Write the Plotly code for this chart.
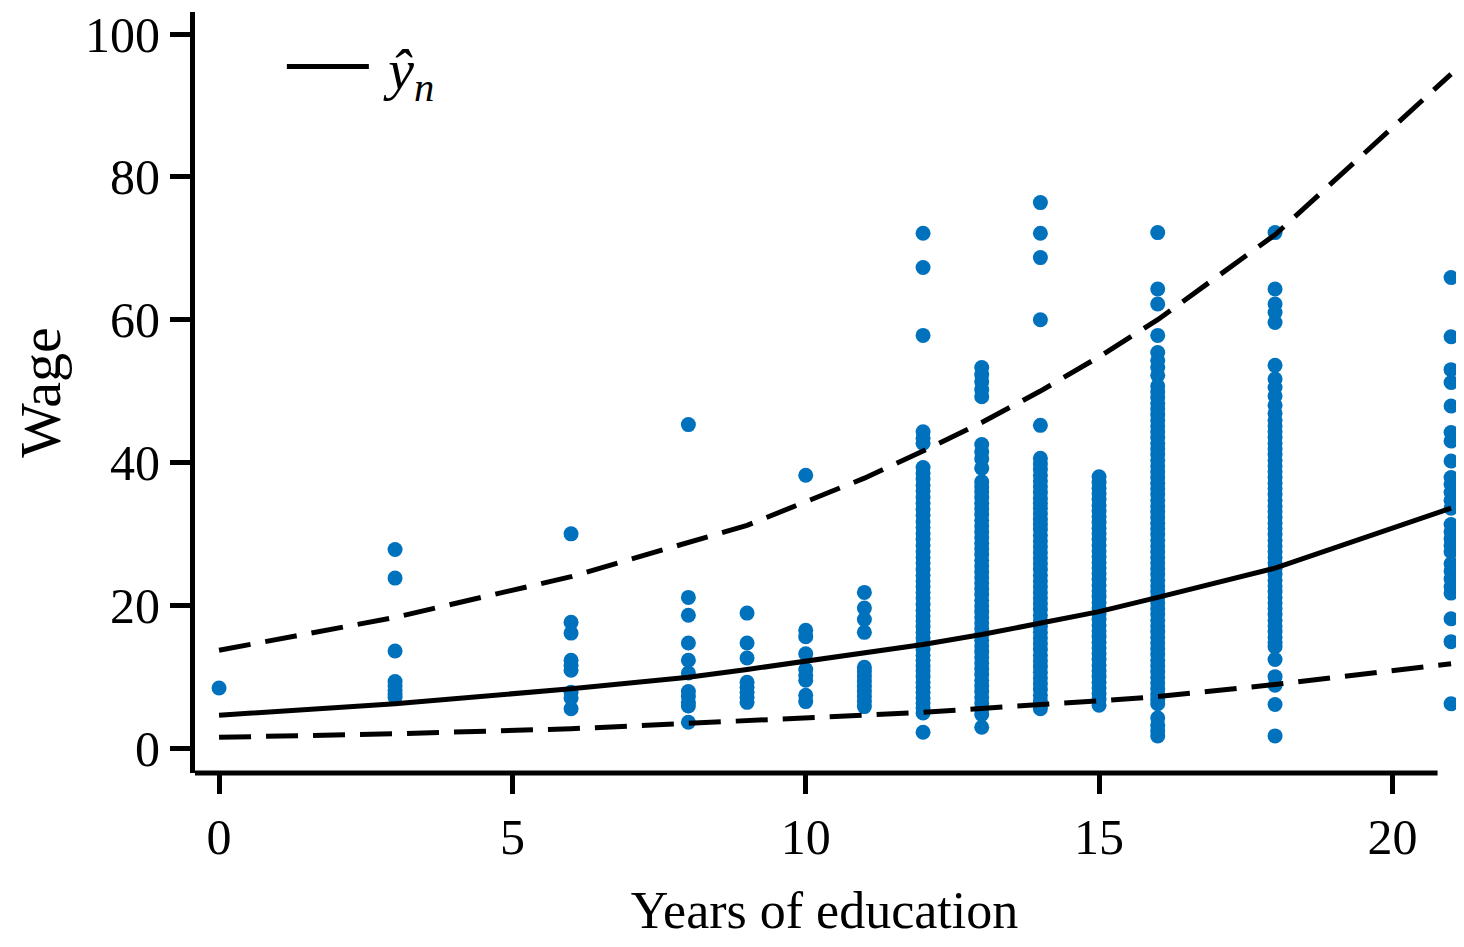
import plotly.graph_objects as go

# ---------------- data ----------------
educ_levels = [0, 3, 6, 8, 9, 10, 11, 12, 13, 14, 15, 16, 18, 21]

wage_0 = [8.4]
wage_3 = [27.8, 23.8, 13.6, 9.3, 8.7, 8.1, 7.5, 7.1]
wage_6 = [30.0, 17.6, 16.1, 12.3, 11.6, 10.9, 7.8, 7.0, 5.5]
wage_8 = [45.3, 21.1, 18.6, 14.7, 12.3, 10.5, 7.9, 7.2, 6.4, 5.9, 3.6]
wage_9 = [18.9, 14.7, 12.6, 9.2, 8.5, 7.8, 7.1, 6.4]
wage_10 = [38.2, 16.5, 15.6, 13.2, 11.0, 10.2, 9.5, 7.4, 6.5]
wage_11 = [21.8, 19.6, 18.0, 16.2, 11.3, 10.7, 10.0, 9.3, 8.6, 7.9, 7.2, 6.5, 5.8]
wage_12 = [72.1, 67.3, 57.8, 44.3, 43.4, 42.7,
           39.3, 38.5, 37.7, 36.8, 36.0, 35.1, 34.3, 33.4, 32.6, 31.7, 30.9, 30.0,
           29.2, 28.4, 27.5, 26.7, 25.9, 25.0, 24.2, 23.4, 22.6, 21.8, 21.0, 20.1,
           19.3, 18.5, 17.8, 17.0, 16.2, 15.4, 14.6, 13.8, 13.0, 12.3, 11.5, 10.8,
           10.0, 9.2, 8.5, 7.8, 7.0, 6.3, 5.6, 4.9, 2.2]
wage_13 = [53.3, 52.3, 51.3, 50.2, 49.2, 42.5, 41.5, 40.5, 39.2,
           37.3, 36.6, 35.9, 35.1, 34.3, 33.5, 32.7, 31.9, 31.1, 30.3, 29.5, 28.7,
           27.9, 27.1, 26.3, 25.5, 24.7, 23.9, 23.1, 22.3, 21.5, 20.7, 19.9, 19.1,
           18.3, 17.5, 16.7, 15.9, 15.1, 14.3, 13.5, 12.7, 11.9, 11.1, 10.3, 9.5,
           8.7, 7.9, 7.1, 6.3, 5.5, 4.7, 2.9]
wage_14 = [76.4, 72.1, 68.7, 60.0, 45.2,
           40.6, 39.8, 39.0, 38.2, 37.4, 36.6, 35.8, 35.0, 34.3,
           33.6, 32.8, 32.0, 31.3, 30.6,
           29.8, 29.0, 28.2, 27.4, 26.6, 25.8, 25.0, 24.2, 23.4, 22.6, 21.8, 21.0,
           20.2, 19.4, 18.6, 17.8, 17.0, 16.2, 15.4, 14.6, 13.8, 13.0, 12.2, 11.4,
           10.6, 9.8, 9.0, 8.2, 7.4, 6.6, 6.0, 5.5]
wage_15 = [38.0, 37.2, 36.4, 35.6, 34.8, 34.0, 33.2, 32.4, 31.6, 30.8, 30.0,
           29.2, 28.4, 27.6, 26.8, 26.0, 25.2, 24.4, 23.6, 22.8, 22.0, 21.2, 20.4,
           19.6, 18.8, 18.0, 17.2, 16.4, 15.6, 14.8, 14.0, 13.2, 12.4, 11.6, 10.8,
           10.0, 9.2, 8.4, 7.6, 6.8, 6.0]
wage_16 = [72.2, 64.3, 62.2, 57.8, 55.4, 54.3, 53.3, 52.2,
           50.7, 49.9, 49.1, 48.3, 47.5, 46.7, 45.9, 45.1, 44.3, 43.5, 42.7, 41.9,
           41.1, 40.3, 39.5, 38.7, 37.9, 37.1, 36.3, 35.5, 34.7, 33.9, 33.1, 32.3,
           31.5, 30.7, 29.9, 29.1, 28.3, 27.5, 26.7, 25.9, 25.1, 24.3, 23.5, 22.7,
           21.9, 21.1, 20.3, 19.5, 18.7, 17.9, 17.1, 16.3, 15.5, 14.7, 13.9, 13.1,
           12.3, 11.5, 10.7, 9.9, 9.1, 8.3, 7.5, 6.8, 6.2, 4.2, 3.2, 2.4, 1.7]
wage_18 = [72.2, 64.3, 62.2, 61.0, 59.6, 53.6, 51.7, 50.5, 49.3, 48.0, 46.9,
           45.9, 45.1, 44.3, 43.5, 42.7, 41.9, 41.1, 40.3, 39.5, 38.7, 37.9, 37.1,
           36.3, 35.5, 34.7, 33.9, 33.1, 32.3, 31.5, 30.7, 29.9, 29.1, 28.3, 27.5,
           26.7, 25.9, 25.1, 24.3, 23.5, 22.7, 21.9, 21.1, 20.3, 19.5, 18.7, 17.9,
           17.1, 16.3, 15.5, 14.8, 14.2, 12.4, 10.0, 8.8, 6.1, 1.7]
wage_21 = [65.9, 57.6, 53.0, 51.2, 47.9, 44.2, 43.0, 40.2, 37.9, 36.9, 35.8,
           34.7, 33.6, 31.3, 30.3, 29.3, 28.4, 27.5, 25.8, 24.8, 23.7, 22.6, 21.7,
           18.1, 14.9, 6.2]

wages_by_level = [wage_0, wage_3, wage_6, wage_8, wage_9, wage_10, wage_11,
                  wage_12, wage_13, wage_14, wage_15, wage_16, wage_18, wage_21]

# fitted curve and interval bounds at each education level
fit_mid = [4.6, 6.2, 8.3, 9.9, 11.0, 12.2, 13.3, 14.5, 15.9, 17.5, 19.1, 21.1, 25.2, 33.6]
fit_upper = [13.7, 18.3, 24.0, 28.8, 31.2, 34.5, 37.8, 41.6, 45.6, 50.0, 54.8, 60.0, 71.9, 94.4]
fit_lower = [1.5, 2.0, 2.7, 3.4, 3.8, 4.2, 4.6, 5.0, 5.6, 6.1, 6.6, 7.2, 8.9, 11.8]

x_ticks = [0, 5, 10, 15, 20]
y_ticks = [0, 20, 40, 60, 80, 100]
x_title = "Years of education"
y_title = "Wage"
legend_label = "&nbsp;<i>ŷ</i><sub><i>n</i></sub>"

# ---------------- styling ----------------
BLUE = "rgb(0,114,189)"
FONT = "Liberation Serif"
X_RANGE = [-0.41, 21.05]
X_AXIS_END = 20.77
Y_RANGE = [-3.5, 103.1]

pts_x, pts_y = [], []
for lvl, ws in zip(educ_levels, wages_by_level):
    pts_x.extend([lvl] * len(ws))
    pts_y.extend(ws)

fig = go.Figure()
fig.add_trace(go.Scatter(
    x=pts_x, y=pts_y, mode="markers",
    marker=dict(color=BLUE, size=15, line=dict(width=0)),
    showlegend=False, cliponaxis=False, hoverinfo="skip"))
fig.add_trace(go.Scatter(
    x=educ_levels, y=fit_upper, mode="lines",
    line=dict(color="black", width=5, dash="32px,15px"), showlegend=False))
fig.add_trace(go.Scatter(
    x=educ_levels, y=fit_lower, mode="lines",
    line=dict(color="black", width=5, dash="32px,15px"), showlegend=False))
fig.add_trace(go.Scatter(
    x=educ_levels, y=fit_mid, mode="lines",
    line=dict(color="black", width=5), name=legend_label, showlegend=True))

# the page body adds an 8px margin, so the figure is sized to fit inside it
fig.update_layout(
    width=1448, height=931,
    margin=dict(l=187, r=2, t=4, b=166, autoexpand=False),
    paper_bgcolor="white", plot_bgcolor="white",
    font=dict(family=FONT, size=50, color="black"),
    showlegend=True,
    legend=dict(x=0.069, y=0.928, xanchor="left", yanchor="middle",
                bgcolor="rgba(0,0,0,0)", itemwidth=82,
                font=dict(family=FONT, size=58, color="black")),
    shapes=[dict(type="line", xref="x", yref="paper",
                 x0=X_RANGE[0], x1=X_AXIS_END, y0=0, y1=0,
                 line=dict(color="black", width=5), layer="above")],
)
fig.update_xaxes(
    range=X_RANGE, tickvals=x_ticks, ticktext=[str(v) for v in x_ticks],
    ticks="outside", ticklen=20, tickwidth=5, tickcolor="black",
    showline=False, showgrid=False, zeroline=False, automargin=False,
    ticklabeloverflow="allow",
    tickfont=dict(family=FONT, size=50, color="black"),
    title=dict(text=x_title, font=dict(family=FONT, size=52, color="black"), standoff=41),
)
fig.update_yaxes(
    range=Y_RANGE, tickvals=y_ticks, ticktext=[str(v) for v in y_ticks],
    ticks="outside", ticklen=20, tickwidth=5, tickcolor="black",
    showline=True, linewidth=5, linecolor="black",
    showgrid=False, zeroline=False, automargin=False,
    ticklabeloverflow="allow",
    tickfont=dict(family=FONT, size=50, color="black"),
    title=dict(text=y_title, font=dict(family=FONT, size=58, color="black"), standoff=20),
)

fig.write_html("out.html")
